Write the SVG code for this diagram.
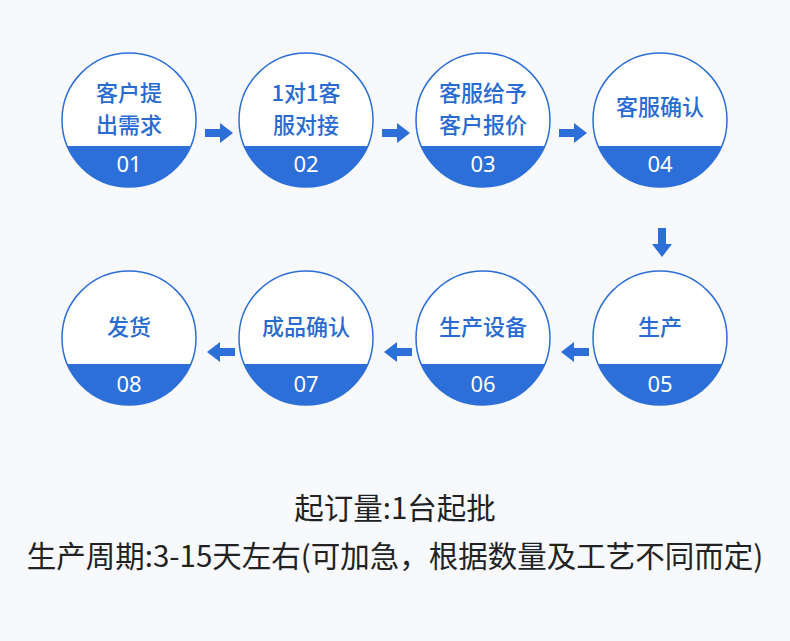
<svg xmlns="http://www.w3.org/2000/svg" width="790" height="641" viewBox="0 0 790 641">
<defs>
<style>
.c{fill:#fff;stroke:#2c6fd9;stroke-width:1.5}
.b{fill:#2c6fd9}
.t{font-family:"Noto Sans CJK SC","Noto Sans",sans-serif;font-size:22px;font-weight:500;fill:#2a6bd1;text-anchor:middle}
.n{font-family:"Noto Sans","Liberation Sans",sans-serif;font-size:22px;fill:#fff;text-anchor:middle}
.f{font-family:"Noto Sans CJK SC","Noto Sans",sans-serif;font-size:29.5px;fill:#222;text-anchor:middle}
.a{fill:#2c6fd9}
</style>
<clipPath id="k"><circle cx="0" cy="0" r="67"/></clipPath>
<g id="node"><circle class="c" cx="0" cy="0" r="67"/><rect class="b" x="-68" y="26" width="136" height="50" clip-path="url(#k)"/></g>
</defs>
<rect width="790" height="641" fill="#f7f9fd"/>
<g id="n1" transform="translate(129,120)"><use href="#node"/><text class="t" y="-19">客户提</text><text class="t" y="13">出需求</text><text class="n" y="52">01</text></g>
<g id="n2" transform="translate(306,120)"><use href="#node"/><text class="t" y="-19">1对1客</text><text class="t" y="13">服对接</text><text class="n" y="52">02</text></g>
<g id="n3" transform="translate(483,120)"><use href="#node"/><text class="t" y="-19">客服给予</text><text class="t" y="13">客户报价</text><text class="n" y="52">03</text></g>
<g id="n4" transform="translate(660,120)"><use href="#node"/><text class="t" y="-5">客服确认</text><text class="n" y="52">04</text></g>
<g id="n5" transform="translate(660,338)"><use href="#node"/><text class="t" y="-3">生产</text><text class="n" y="54">05</text></g>
<g id="n6" transform="translate(483,338)"><use href="#node"/><text class="t" y="-3">生产设备</text><text class="n" y="54">06</text></g>
<g id="n7" transform="translate(306,338)"><use href="#node"/><text class="t" y="-3">成品确认</text><text class="n" y="54">07</text></g>
<g id="n8" transform="translate(129,338)"><use href="#node"/><text class="t" y="-3">发货</text><text class="n" y="54">08</text></g>
<g id="connectors">
<path class="a" d="M205,129h15v-6l13,10l-13,10v-6h-15z"/>
<path class="a" d="M382,129h15v-6l13,10l-13,10v-6h-15z"/>
<path class="a" d="M559,129h15v-6l13,10l-13,10v-6h-15z"/>
<path class="a" d="M658,228h8v16h6l-10,13l-10,-13h6z"/>
<path class="a" d="M589,348h-15v-6l-13,10l13,10v-6h15z"/>
<path class="a" d="M412,348h-15v-6l-13,10l13,10v-6h15z"/>
<path class="a" d="M235,348h-15v-6l-13,10l13,10v-6h15z"/>
</g>
<text class="f" x="395" y="519">起订量:1台起批</text>
<text class="f" x="395" y="567">生产周期:3-15天左右(可加急，根据数量及工艺不同而定)</text>
</svg>
